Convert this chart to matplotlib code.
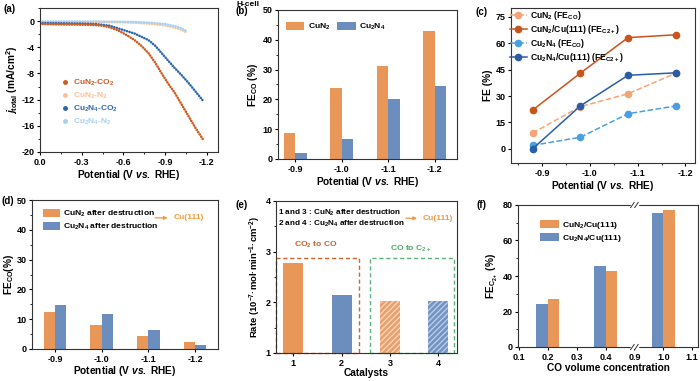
import matplotlib
matplotlib.use("Agg")
import matplotlib.pyplot as plt
import numpy as np
from matplotlib.lines import Line2D
from matplotlib.patches import Rectangle
from matplotlib.ticker import MultipleLocator

plt.rcParams.update({
    'font.family': ['Liberation Sans', 'DejaVu Sans'],
    'font.weight': 'bold',
    'axes.labelweight': 'bold',
    'axes.unicode_minus': False,
    'mathtext.fontset': 'custom',
    'mathtext.rm': 'Liberation Sans:bold',
    'mathtext.bf': 'Liberation Sans:bold',
    'mathtext.it': 'Liberation Sans:italic:bold',
    'mathtext.default': 'bf',
    'axes.linewidth': 0.8,
    'axes.edgecolor': '#333333',
})

# ---------------- data ----------------
# (a) LSV curves
a_cun2_co2_v = [0.0, -0.1, -0.2, -0.3, -0.4, -0.45, -0.5, -0.56, -0.62, -0.68, -0.73, -0.78, -0.83, -0.875, -0.92, -0.97, -1.02, -1.07, -1.12, -1.17, -1.18]
a_cun2_co2_j = [-0.45, -0.5, -0.52, -0.55, -0.62, -0.7, -0.95, -1.4, -2.1, -2.9, -3.8, -4.9, -6.4, -8.0, -9.5, -11.0, -12.8, -14.6, -16.4, -18.0, -18.2]
a_cun2_n2_v = [0.0, -0.2, -0.4, -0.6, -0.7, -0.8, -0.9, -0.95, -1.0, -1.03, -1.055]
a_cun2_n2_j = [-0.15, -0.15, -0.16, -0.2, -0.28, -0.42, -0.68, -0.9, -1.2, -1.45, -1.75]
a_cu2n4_co2_v = [0.0, -0.1, -0.2, -0.3, -0.4, -0.5, -0.56, -0.62, -0.68, -0.73, -0.78, -0.83, -0.875, -0.92, -0.97, -1.02, -1.07, -1.12, -1.17, -1.18]
a_cu2n4_co2_j = [-0.3, -0.32, -0.35, -0.38, -0.45, -0.7, -1.1, -1.5, -1.9, -2.4, -2.9, -3.8, -4.9, -6.0, -7.2, -8.3, -9.5, -10.8, -12.1, -12.3]
a_cu2n4_n2_v = [0.0, -0.2, -0.4, -0.6, -0.7, -0.8, -0.9, -0.95, -1.0, -1.03, -1.06]
a_cu2n4_n2_j = [-0.05, -0.05, -0.06, -0.1, -0.15, -0.25, -0.45, -0.68, -0.95, -1.25, -1.6]

# (b) H-cell FE_CO
b_potentials = ['-0.9', '-1.0', '-1.1', '-1.2']
b_cun2 = [8.8, 23.7, 31.3, 43.0]
b_cu2n4 = [2.0, 6.6, 20.0, 24.4]

# (c) FE vs potential
c_potential = [-0.88, -0.98, -1.08, -1.18]
c_cun2_co = [9.0, 24.0, 31.3, 43.0]
c_cun2_c2 = [22.0, 43.0, 63.2, 64.8]
c_cu2n4_co = [2.0, 6.6, 20.0, 24.4]
c_cu2n4_c2 = [0.0, 24.4, 41.8, 43.2]

# (d) after destruction FE_CO
d_potentials = ['-0.9', '-1.0', '-1.1', '-1.2']
d_cun2 = [12.5, 8.0, 4.2, 2.3]
d_cu2n4 = [14.8, 11.8, 6.5, 1.4]

# (e) rates
e_catalysts = [1, 2, 3, 4]
e_rates = [2.77, 2.15, 2.03, 2.02]

# (f) FE_C2+ vs CO concentration
f_tick_labels = ['0.1', '0.2', '0.3', '0.4', '0.9', '1.0', '1.1']
f_conc = ['0.2', '0.4', '1.0']
f_cu2n4 = [24.0, 45.5, 75.5]
f_cun2 = [27.0, 42.7, 77.0]

# ---------------- style ----------------
OR = '#E99659'
BL = '#6C8EBF'
ARROW = '#F39A3C'
TS = 6.5
LS = 7.3
LEGS = 6.1

W, H = 700, 381
fig = plt.figure(figsize=(7.0, 3.81), dpi=100)


def add_ax(l, r, t, b):
    return fig.add_axes([l / W, 1 - b / H, (r - l) / W, (b - t) / H])


def style(ax):
    ax.tick_params(which='major', direction='out', length=2.5, width=0.8, labelsize=TS, pad=1.5)
    ax.tick_params(which='minor', direction='out', length=1.4, width=0.6)
    for lab in ax.get_xticklabels() + ax.get_yticklabels():
        lab.set_fontweight('bold')


def plabel(x, y, s):
    fig.text(x / W, 1 - y / H, s, fontsize=7, fontweight='bold', va='center', ha='left')


# ---------------- (a) ----------------
ax = add_ax(40, 218, 8, 152)
dot = dict(linestyle=(0, (0.01, 1.0)), dash_capstyle='round', lw=1.9)
ax.plot(a_cun2_n2_v, a_cun2_n2_j, color='#F9C49C', **dot)
ax.plot(a_cu2n4_n2_v, a_cu2n4_n2_j, color='#A9D1F2', **dot)
ax.plot(a_cu2n4_co2_v, a_cu2n4_co2_j, color='#2C66B0', **dot)
ax.plot(a_cun2_co2_v, a_cun2_co2_j, color='#D05A1E', **dot)
ax.set_xlim(0.0, -1.28)
ax.set_ylim(-20, 2)
ax.set_xticks([0.0, -0.3, -0.6, -0.9, -1.2])
ax.set_yticks([0, -4, -8, -12, -16, -20])
ax.xaxis.set_minor_locator(MultipleLocator(0.15))
ax.yaxis.set_minor_locator(MultipleLocator(2))
ax.set_xlabel(r'Potential (V $\mathit{vs.}$ RHE)', fontsize=LS, labelpad=1)
ax.set_ylabel(r'$\mathit{j}_{total}$ (mA/cm$^2$)', fontsize=LS, labelpad=1)
style(ax)
hs = [Line2D([], [], marker='o', ls='none', ms=2.5, color=c) for c in ['#D05A1E', '#F9C49C', '#2C66B0', '#A9D1F2']]
ax.legend(hs, [r'CuN$_2$-CO$_2$', r'CuN$_2$-N$_2$', r'Cu$_2$N$_4$-CO$_2$', r'Cu$_2$N$_4$-N$_2$'],
          loc='upper left', bbox_to_anchor=(0.08, 0.57), frameon=False, fontsize=6,
          handlelength=0.8, handletextpad=0.6, labelspacing=0.35, labelcolor='linecolor')
plabel(4, 9, '(a)')

# ---------------- (b) ----------------
ax = add_ax(278, 457, 10, 159)
xb = np.arange(len(b_potentials))
ax.bar(xb - 0.125, b_cun2, 0.25, color=OR, label=r'CuN$_2$')
ax.bar(xb + 0.125, b_cu2n4, 0.25, color=BL, label=r'Cu$_2$N$_4$')
ax.set_xticks(xb)
ax.set_xticklabels(b_potentials)
ax.set_xlim(-0.37, 3.48)
ax.set_ylim(0, 50)
ax.set_yticks(range(0, 51, 10))
ax.yaxis.set_minor_locator(MultipleLocator(5))
ax.set_xlabel(r'Potential (V $\mathit{vs.}$ RHE)', fontsize=LS, labelpad=1)
ax.set_ylabel(r'FE$_{CO}$ (%)', fontsize=LS, labelpad=2)
style(ax)
ax.legend(loc='upper left', bbox_to_anchor=(0.0, 0.97), ncol=2, frameon=False, fontsize=LEGS,
          handlelength=2.2, handleheight=1.1, handletextpad=0.4, columnspacing=0.8)
fig.text(248 / W, 1 - 4 / H, 'H-cell', fontsize=6, fontweight='bold', va='center', ha='center')
plabel(236, 11, '(b)')

# ---------------- (c) ----------------
ax = add_ax(511, 695, 8, 163)
mk = dict(marker='o', ms=4.5, lw=1.1)
ax.plot(c_potential, c_cun2_co, ls='--', color='#F4A477', label=r'CuN$_2$ (FE$_{CO}$)', **mk)
ax.plot(c_potential, c_cun2_c2, ls='-', color='#C9541C', label=r'CuN$_2$/Cu(111) (FE$_{C2+}$)', **mk)
ax.plot(c_potential, c_cu2n4_co, ls='--', color='#4A9FE0', label=r'Cu$_2$N$_4$ (FE$_{CO}$)', **mk)
ax.plot(c_potential, c_cu2n4_c2, ls='-', color='#2B5DA6', label=r'Cu$_2$N$_4$/Cu(111) (FE$_{C2+}$)', **mk)
ax.set_xlim(-0.835, -1.22)
ax.set_ylim(-8, 80)
ax.set_xticks([-0.9, -1.0, -1.1, -1.2])
ax.set_yticks(range(0, 76, 15))
ax.xaxis.set_minor_locator(MultipleLocator(0.05))
ax.set_xlabel(r'Potential (V $\mathit{vs.}$ RHE)', fontsize=LS, labelpad=1)
ax.set_ylabel('FE (%)', fontsize=LS, labelpad=2)
style(ax)
ax.legend(loc='upper left', bbox_to_anchor=(-0.03, 1.02), frameon=False, fontsize=6.2,
          handlelength=2.0, handletextpad=0.4, labelspacing=0.12, borderaxespad=0.1)
plabel(475, 12, '(c)')

# ---------------- (d) ----------------
ax = add_ax(32, 218, 200, 349)
xd = np.arange(len(d_potentials))
ax.bar(xd - 0.12, d_cun2, 0.24, color=OR, label=r'CuN$_2$ after destruction')
ax.bar(xd + 0.12, d_cu2n4, 0.24, color=BL, label=r'Cu$_2$N$_4$ after destruction')
ax.set_xticks(xd)
ax.set_xticklabels(d_potentials)
ax.set_xlim(-0.49, 3.49)
ax.set_ylim(0, 50)
ax.set_yticks(range(0, 51, 10))
ax.yaxis.set_minor_locator(MultipleLocator(5))
ax.set_xlabel(r'Potential (V $\mathit{vs.}$ RHE)', fontsize=LS, labelpad=0.5)
ax.set_ylabel(r'FE$_{CO}$(%)', fontsize=LS, labelpad=0.5)
style(ax)
ax.legend(loc='upper left', bbox_to_anchor=(0.02, 0.99), frameon=False, fontsize=LEGS,
          handlelength=2.0, handleheight=1.1, handletextpad=0.3, labelspacing=0.3)
ax.annotate('', xy=(2.47, 44), xytext=(2.08, 44),
            arrowprops=dict(arrowstyle='-|>', color=ARROW, lw=0.9, mutation_scale=5))
ax.text(2.55, 44, 'Cu(111)', color=ARROW, fontsize=LEGS, fontweight='bold', va='center', ha='left')
plabel(1, 201, '(d)')

# ---------------- (e) ----------------
ax = add_ax(276, 457, 201, 353)
ax.bar(e_catalysts[0], e_rates[0], 0.41, color=OR)
ax.bar(e_catalysts[1], e_rates[1], 0.41, color=BL)
ax.bar(e_catalysts[2], e_rates[2], 0.41, color='#E9A06C', edgecolor='#F6D2B6', hatch='//////', lw=0)
ax.bar(e_catalysts[3], e_rates[3], 0.41, color='#7294C2', edgecolor='#B9CCE4', hatch='//////', lw=0)
ax.set_xlim(0.64, 4.39)
ax.set_ylim(1, 4)
ax.set_xticks(e_catalysts)
ax.set_yticks([1, 2, 3, 4])
ax.yaxis.set_minor_locator(MultipleLocator(0.5))
ax.set_xlabel('Catalysts', fontsize=LS, labelpad=0.5)
ax.set_ylabel(r'Rate (10$^{-7}$·mol·min$^{-1}$·cm$^{-2}$)', fontsize=6.8, labelpad=2)
style(ax)
ax.add_patch(Rectangle((0.65, 1.0), 1.71, 1.88, fill=False, ls=(0, (3, 2)), lw=1.0, ec='#D0642E', clip_on=False))
ax.add_patch(Rectangle((2.58, 1.0), 1.74, 1.88, fill=False, ls=(0, (3, 2)), lw=1.0, ec='#5DB27A', clip_on=False))
ax.text(1.47, 3.13, r'CO$_2$ to CO', color='#C8602A', fontsize=LEGS, fontweight='bold', ha='center', va='center')
ax.text(3.42, 3.05, r'CO to C$_{2+}$', color='#4CA866', fontsize=LEGS, fontweight='bold', ha='center', va='center')
ax.text(0.69, 3.77, r'1 and 3 : CuN$_2$ after destruction', fontsize=5.9, fontweight='bold', va='center')
ax.text(0.69, 3.54, r'2 and 4 : Cu$_2$N$_4$ after destruction', fontsize=5.9, fontweight='bold', va='center')
ax.annotate('', xy=(3.62, 3.66), xytext=(3.27, 3.66),
            arrowprops=dict(arrowstyle='-|>', color=ARROW, lw=0.9, mutation_scale=5))
ax.text(3.68, 3.66, 'Cu(111)', color=ARROW, fontsize=LEGS, fontweight='bold', va='center', ha='left')
plabel(236, 205, '(e)')

# ---------------- (f) ----------------
ax = add_ax(518, 698, 205, 347)
pos_map = {lab: i for i, lab in enumerate(f_tick_labels)}
xf = np.array([pos_map[c] for c in f_conc])
ax.bar(xf + 0.2, f_cun2, 0.4, color=OR, label=r'CuN$_2$/Cu(111)')
ax.bar(xf - 0.2, f_cu2n4, 0.4, color=BL, label=r'Cu$_2$N$_4$/Cu(111)')
ax.set_xticks(range(len(f_tick_labels)))
ax.set_xticklabels(f_tick_labels)
ax.set_xlim(-0.03, 6.2)
ax.set_ylim(0, 80)
ax.set_yticks(range(0, 81, 20))
ax.yaxis.set_minor_locator(MultipleLocator(10))
ax.set_xlabel('CO volume concentration', fontsize=LS, labelpad=1)
ax.set_ylabel(r'FE$_{C_{2+}}$ (%)', fontsize=LS, labelpad=2)
style(ax)
ax.legend(loc='upper left', bbox_to_anchor=(0.08, 0.95), frameon=False, fontsize=LEGS,
          handlelength=2.2, handleheight=1.1, handletextpad=0.4, labelspacing=0.3)
# axis break marks
brk = pos_map['0.9']
tr = ax.get_xaxis_transform()
for yb in (0.0, 1.0):
    ax.plot([brk - 0.09, brk + 0.09], [yb, yb], transform=tr, color='white', lw=2.5, clip_on=False, zorder=5)
    for dx in (-0.07, 0.07):
        ax.plot([brk + dx - 0.06, brk + dx + 0.06], [yb - 0.018, yb + 0.018], transform=tr,
                color='#333333', lw=0.7, clip_on=False, zorder=6)
plabel(477, 205, '(f)')

fig.savefig('out.png', dpi=100)
